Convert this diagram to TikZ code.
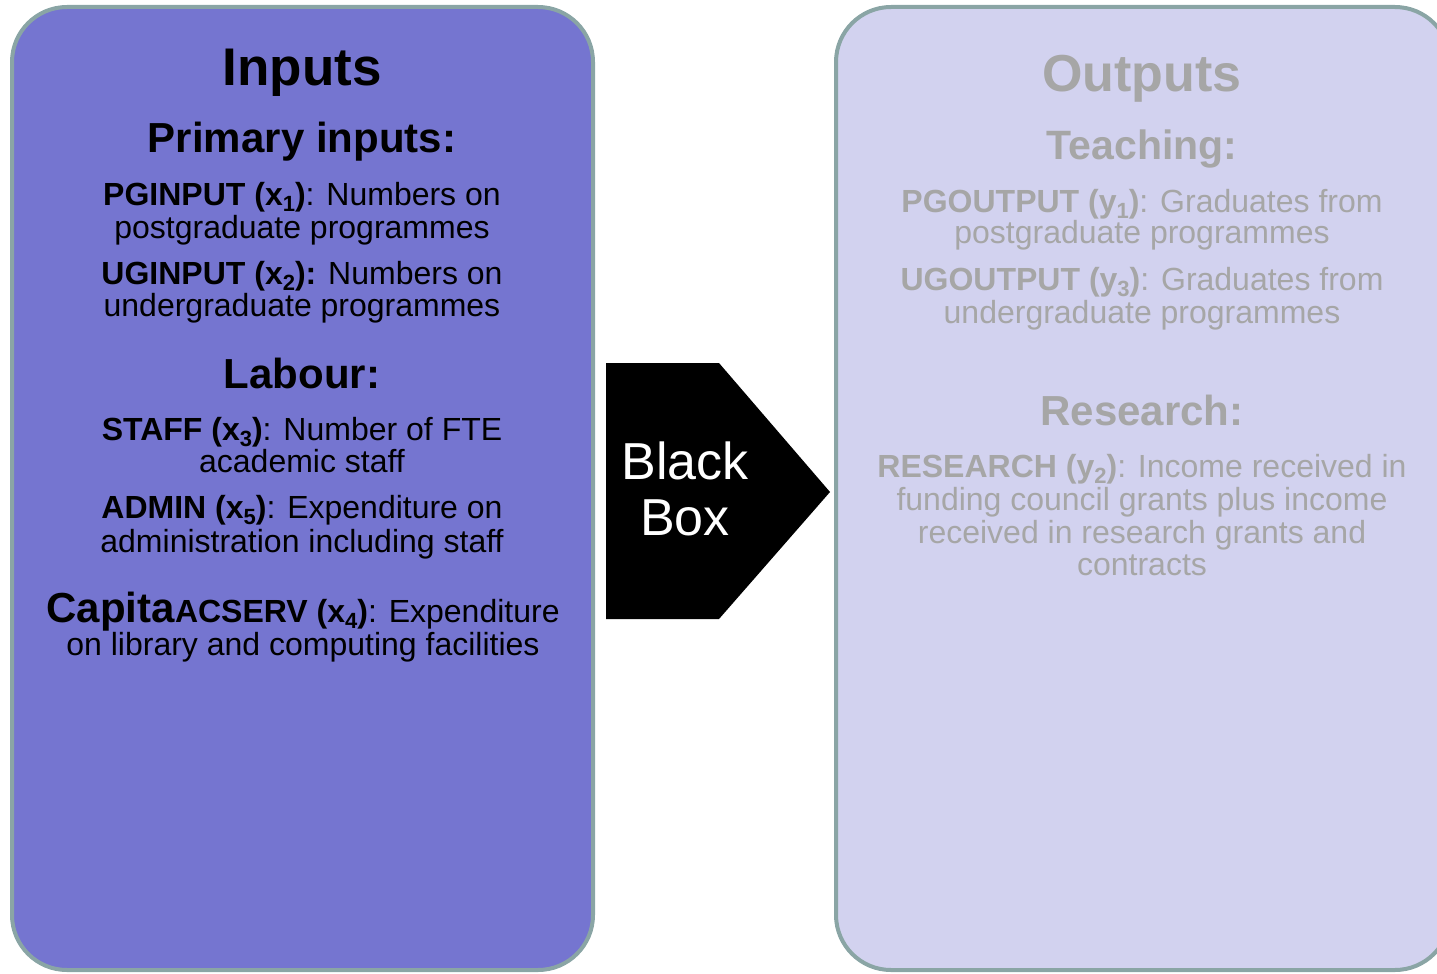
\documentclass[tikz,border=0pt]{standalone}
\usepackage{fontspec}
\setmainfont{Liberation Sans}
\definecolor{inFill}{RGB}{117,117,208}
\definecolor{outFill}{RGB}{210,210,239}
\definecolor{rim}{RGB}{138,165,165}
\definecolor{fadeText}{RGB}{166,166,166}
% lowered index digit, as in x_1
\newcommand{\sbs}[1]{\smash{\raisebox{-6pt}{\fontsize{22}{22}\selectfont #1}}}
\begin{document}
\begin{tikzpicture}[x=1pt,y=-1pt,
  every node/.style={inner sep=0pt},
  panel/.style={draw=rim, line width=4pt, rounded corners=55pt},
  title/.style={font=\fontsize{53}{53}\selectfont\bfseries, anchor=base},
  head/.style={font=\fontsize{42}{42}\selectfont\bfseries, anchor=base},
  body/.style={font=\fontsize{32}{32}\selectfont, anchor=base},
  faded/.style={text=fadeText},
  boxtext/.style={font=\fontsize{52}{52}\selectfont, text=white, anchor=base}]
\useasboundingbox (0,0) rectangle (1437,974);

% the two panels
\draw[panel, fill=inFill] (12,7) rectangle (593,970);
\draw[panel, fill=outFill] (836,7) rectangle (1450,970);

% the black box arrow
\fill[black] (606,363) coordinate (bbA) -- (719,363) coordinate (bbB)
  -- (830,492) coordinate (bbTip) -- (719,619) coordinate (bbC)
  -- (606,619) coordinate (bbD) -- cycle;
\node[boxtext] (bb1) at (685,479) {Black};
\node[boxtext] (bb2) at (685,535) {Box};

% inputs panel
\node[title] (inT) at (302,85) {Inputs};
\node[head] (inH1) at (302,152) {Primary inputs:};
\node[body] (in1a) at (302,205) {\textbf{PGINPUT (x\sbs{1})}: Numbers on};
\node[body] (in1b) at (302,238) {postgraduate programmes};
\node[body] (in2a) at (302,284) {\textbf{UGINPUT (x\sbs{2}):} Numbers on};
\node[body] (in2b) at (302,316) {undergraduate programmes};
\node[head] (inH2) at (302,388) {Labour:};
\node[body] (in3a) at (302,440) {\textbf{STAFF (x\sbs{3})}: Number of FTE};
\node[body] (in3b) at (302,472) {academic staff};
\node[body] (in4a) at (302,518) {\textbf{ADMIN (x\sbs{5})}: Expenditure on};
\node[body] (in4b) at (302,552) {administration including staff};
\node[body] (in5a) at (303,622) {{\fontsize{42}{42}\selectfont\bfseries Capita}\textbf{ACSERV (x\sbs{4})}: Expenditure};
\node[body] (in5b) at (303,655) {on library and computing facilities};

% outputs panel
\begin{scope}[every node/.append style={faded}]
\node[title, font=\fontsize{52}{52}\selectfont\bfseries] (outT) at (1142,92) {Outputs};
\node[head, font=\fontsize{41}{41}\selectfont\bfseries] (outH1) at (1142,159) {Teaching:};
\node[body] (out1a) at (1142,212) {\textbf{PGOUTPUT (y\sbs{1})}: Graduates from};
\node[body] (out1b) at (1142,243) {postgraduate programmes};
\node[body] (out2a) at (1142,290) {\textbf{UGOUTPUT (y\sbs{3})}: Graduates from};
\node[body] (out2b) at (1142,323) {undergraduate programmes};
\node[head] (outH2) at (1142,425) {Research:};
\node[body] (out3a) at (1142,477) {\textbf{RESEARCH (y\sbs{2})}: Income received in};
\node[body] (out3b) at (1142,510) {funding council grants plus income};
\node[body] (out3c) at (1142,543) {received in research grants and};
\node[body] (out3d) at (1142,575) {contracts};
\end{scope}
\end{tikzpicture}
\end{document}
